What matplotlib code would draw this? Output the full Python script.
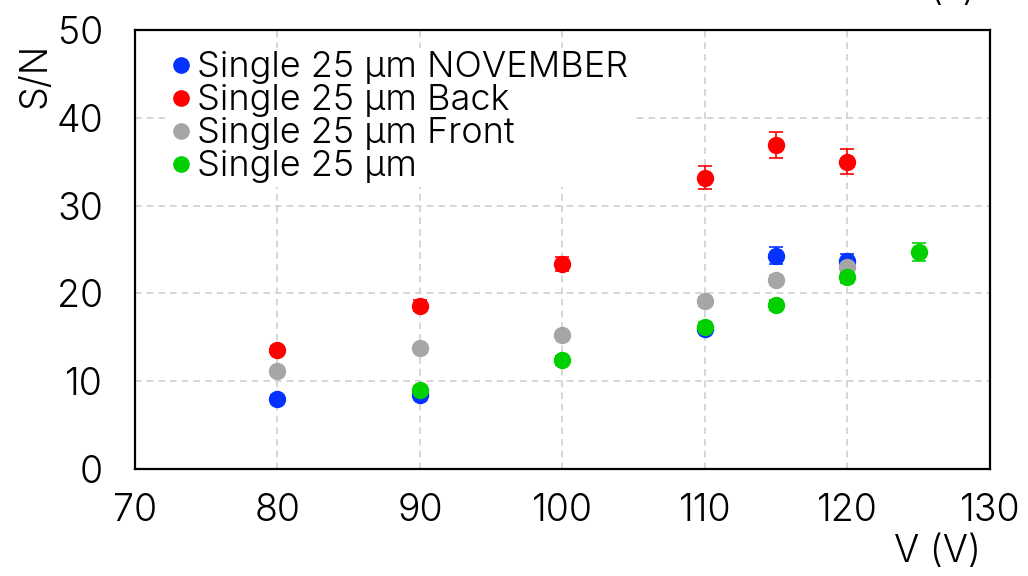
import matplotlib
matplotlib.use("Agg")
import matplotlib.pyplot as plt
from matplotlib import font_manager
from matplotlib.lines import Line2D

# look for a light sans font (reference uses a light Helvetica-like face)
light = None
for f in font_manager.fontManager.ttflist:
    if f.name in ("Roboto", "Lato", "Open Sans", "Inter", "Noto Sans") and f.weight in (300, "light") and f.style == "normal":
        light = f
        break
if light is not None:
    fam = [light.name, 'DejaVu Sans']
    wt = 300
else:
    fam = ['Liberation Sans', 'DejaVu Sans']
    wt = 'normal'
plt.rcParams['font.family'] = fam
plt.rcParams['font.weight'] = wt

labels = ["Single 25 µm NOVEMBER", "Single 25 µm Back", "Single 25 µm Front", "Single 25 µm"]
colors = ["#0433FF", "#FF0000", "#A6A6A6", "#00D000"]

v_nov = [80, 90, 110, 115, 120]
sn_nov = [8.0, 8.4, 16.0, 24.3, 23.7]
err_nov = [0.4, 0.4, 0.5, 1.0, 0.8]

v_back = [80, 90, 100, 110, 115, 120]
sn_back = [13.6, 18.6, 23.3, 33.2, 36.9, 35.0]
err_back = [0.4, 0.6, 0.8, 1.3, 1.5, 1.4]

v_front = [80, 90, 100, 110, 115, 120]
sn_front = [11.2, 13.8, 15.3, 19.1, 21.5, 23.0]
err_front = [0.3, 0.3, 0.4, 0.5, 0.6, 0.6]

v_single = [90, 100, 110, 115, 120, 125]
sn_single = [9.0, 12.4, 16.2, 18.7, 21.9, 24.7]
err_single = [0.4, 0.5, 0.5, 0.6, 0.7, 1.0]

xticks = [70, 80, 90, 100, 110, 120, 130]
yticks = [0, 10, 20, 30, 40, 50]

fig = plt.figure(figsize=(10.28, 5.76), dpi=100)
ax = fig.add_axes([135/1028, 1 - 469/576, 855/1028, 439/576])

series = [(v_nov, sn_nov, err_nov), (v_back, sn_back, err_back),
          (v_front, sn_front, err_front), (v_single, sn_single, err_single)]
for (x, y, e), lab, c in zip(series, labels, colors):
    ax.errorbar(x, y, yerr=e, fmt='o', color=c, ecolor=c, markersize=11.5,
                elinewidth=1.2, capsize=5, capthick=1.2, label=lab, zorder=3)

ax.set_xlim(70, 130)
ax.set_ylim(0, 50)
ax.set_xticks(xticks)
ax.set_yticks(yticks)
ax.tick_params(axis='x', length=0, labelsize=27, pad=17)
ax.tick_params(axis='y', length=0, labelsize=27, pad=23)
ax.grid(True, linestyle=(0, (4, 3)), color='#D0D0D0', linewidth=1.2, zorder=0)
ax.set_axisbelow(True)
for s in ax.spines.values():
    s.set_linewidth(1.6)
    s.set_color('black')

handles = [Line2D([], [], marker='o', linestyle='none', color=c, markersize=11) for c in colors]
leg = ax.legend(handles, labels, loc='upper left', bbox_to_anchor=(0.037, 0.96), frameon=True,
                fontsize=26, handletextpad=0.15, labelspacing=0.0,
                borderpad=0.1, handlelength=0.6, borderaxespad=0.0)
leg.get_frame().set_edgecolor('none')
leg.get_frame().set_facecolor('white')
leg.get_frame().set_alpha(1.0)

fig.text(35/1028, 1 - 75/576, "S/N", rotation=90, fontsize=27, ha='center', va='center')
fig.text(937/1028, 1 - 552/576, "V (V)", fontsize=27, ha='center', va='center')
fig.text(953/1028, 1 + 10/576, "(a)", fontsize=27, ha='center', va='center')

fig.savefig("out.png", dpi=100)
